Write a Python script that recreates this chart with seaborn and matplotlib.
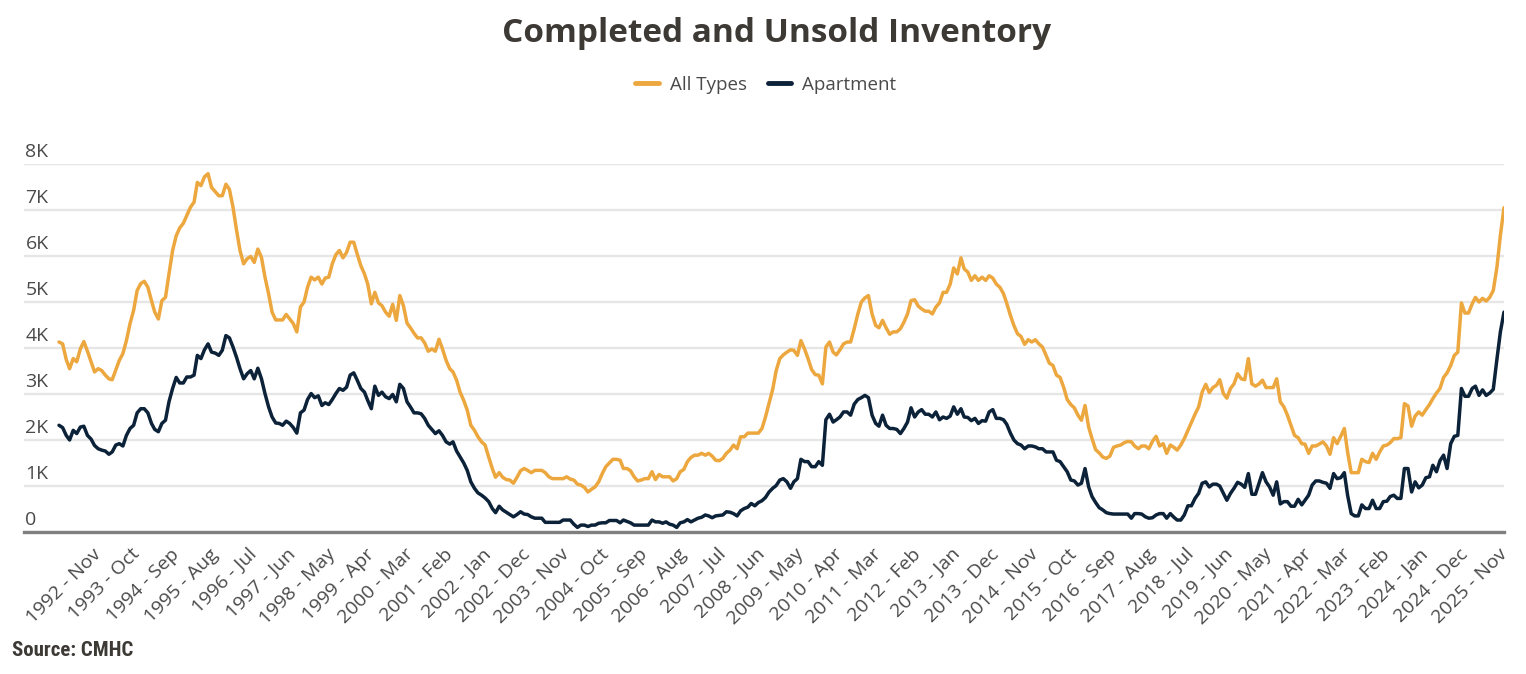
import matplotlib
matplotlib.use("Agg")
import matplotlib.pyplot as plt
import matplotlib.dates as mdates
from matplotlib import font_manager
from matplotlib.lines import Line2D
import seaborn as sns
import pandas as pd
import numpy as np

# monthly completed-and-unsold units, in thousands, starting Dec 1991
start_month = "1991-12-01"

all_types_k = [
    4.13, 4.09, 3.75, 3.55, 3.77, 3.70, 3.98, 4.14, 3.93, 3.70,
    3.48, 3.55, 3.51, 3.41, 3.33, 3.31, 3.52, 3.73, 3.88, 4.16,
    4.53, 4.82, 5.25, 5.40, 5.45, 5.32, 5.03, 4.78, 4.63, 5.03,
    5.10, 5.61, 6.12, 6.44, 6.61, 6.71, 6.88, 7.06, 7.17, 7.60,
    7.53, 7.72, 7.79, 7.49, 7.40, 7.31, 7.31, 7.56, 7.45, 7.06,
    6.55, 6.12, 5.83, 5.94, 5.99, 5.86, 6.15, 5.97, 5.54, 5.18,
    4.78, 4.61, 4.61, 4.61, 4.73, 4.63, 4.53, 4.35, 4.89, 5.00,
    5.32, 5.54, 5.48, 5.54, 5.39, 5.52, 5.54, 5.83, 6.03, 6.12,
    5.96, 6.08, 6.30, 6.30, 6.04, 5.79, 5.61, 5.39, 4.96, 5.21,
    4.98, 4.92, 4.78, 4.69, 4.95, 4.60, 5.14, 4.92, 4.54, 4.44,
    4.32, 4.22, 4.22, 4.11, 3.93, 3.98, 3.93, 4.19, 3.98, 3.73,
    3.55, 3.48, 3.30, 3.04, 2.86, 2.65, 2.32, 2.21, 2.07, 1.96,
    1.89, 1.63, 1.38, 1.19, 1.29, 1.19, 1.14, 1.13, 1.06, 1.19,
    1.33, 1.38, 1.34, 1.29, 1.34, 1.34, 1.34, 1.29, 1.20, 1.16,
    1.16, 1.16, 1.16, 1.20, 1.15, 1.13, 1.04, 1.02, 0.97, 0.87,
    0.93, 0.98, 1.09, 1.27, 1.42, 1.50, 1.58, 1.58, 1.56, 1.38,
    1.38, 1.33, 1.20, 1.11, 1.13, 1.16, 1.16, 1.31, 1.14, 1.25,
    1.20, 1.20, 1.20, 1.11, 1.16, 1.31, 1.36, 1.53, 1.62, 1.67,
    1.67, 1.71, 1.67, 1.71, 1.65, 1.56, 1.55, 1.60, 1.71, 1.78,
    1.89, 1.81, 2.07, 2.07, 2.15, 2.15, 2.15, 2.15, 2.25, 2.50,
    2.80, 3.10, 3.51, 3.77, 3.85, 3.91, 3.96, 3.95, 3.84, 4.16,
    3.98, 3.77, 3.53, 3.42, 3.41, 3.22, 4.02, 4.13, 3.91, 3.85,
    3.96, 4.09, 4.13, 4.13, 4.42, 4.74, 5.00, 5.09, 5.14, 4.74,
    4.49, 4.44, 4.60, 4.44, 4.30, 4.35, 4.35, 4.42, 4.56, 4.74,
    5.03, 5.05, 4.91, 4.85, 4.80, 4.80, 4.74, 4.89, 4.98, 5.21,
    5.21, 5.39, 5.74, 5.61, 5.96, 5.72, 5.65, 5.47, 5.57, 5.47,
    5.54, 5.47, 5.57, 5.52, 5.39, 5.32, 5.18, 4.97, 4.71, 4.49,
    4.31, 4.25, 4.08, 4.18, 4.13, 4.18, 4.09, 4.02, 3.84, 3.67,
    3.62, 3.41, 3.36, 3.15, 2.88, 2.77, 2.70, 2.54, 2.43, 2.75,
    2.28, 2.03, 1.79, 1.72, 1.63, 1.60, 1.65, 1.84, 1.87, 1.89,
    1.94, 1.97, 1.96, 1.87, 1.81, 1.87, 1.87, 1.81, 1.97, 2.08,
    1.87, 1.92, 1.71, 1.89, 1.84, 1.78, 1.89, 2.03, 2.21, 2.39,
    2.56, 2.72, 3.04, 3.21, 3.03, 3.14, 3.19, 3.31, 3.01, 2.91,
    3.12, 3.22, 3.44, 3.33, 3.31, 3.77, 3.22, 3.17, 3.22, 3.30,
    3.14, 3.14, 3.14, 3.33, 2.83, 2.72, 2.54, 2.32, 2.10, 2.05,
    1.92, 1.91, 1.71, 1.87, 1.87, 1.91, 1.96, 1.87, 1.69, 2.05,
    1.92, 2.08, 2.25, 1.74, 1.29, 1.29, 1.29, 1.58, 1.53, 1.51,
    1.71, 1.58, 1.74, 1.87, 1.89, 1.94, 2.03, 2.03, 2.05, 2.79,
    2.74, 2.30, 2.52, 2.61, 2.54, 2.66, 2.77, 2.90, 3.02, 3.12,
    3.36, 3.46, 3.62, 3.84, 3.91, 4.98, 4.76, 4.76, 4.96, 5.10,
    5.00, 5.08, 5.02, 5.10, 5.25, 5.75, 6.45, 7.05,
]

apartment_k = [
    2.32, 2.27, 2.10, 2.00, 2.21, 2.14, 2.28, 2.30, 2.10, 2.02,
    1.88, 1.81, 1.78, 1.76, 1.69, 1.74, 1.89, 1.92, 1.87, 2.10,
    2.25, 2.32, 2.59, 2.68, 2.68, 2.59, 2.36, 2.23, 2.18, 2.36,
    2.43, 2.83, 3.12, 3.36, 3.24, 3.24, 3.37, 3.37, 3.41, 3.84,
    3.77, 3.96, 4.09, 3.91, 3.89, 3.84, 3.95, 4.27, 4.22, 4.02,
    3.79, 3.55, 3.33, 3.44, 3.51, 3.33, 3.56, 3.33, 3.01, 2.72,
    2.50, 2.37, 2.36, 2.32, 2.41, 2.36, 2.27, 2.15, 2.59, 2.65,
    2.88, 3.01, 2.92, 2.96, 2.75, 2.81, 2.77, 2.88, 3.01, 3.12,
    3.08, 3.15, 3.41, 3.46, 3.30, 3.12, 3.04, 2.86, 2.68, 3.17,
    2.97, 3.04, 2.94, 2.90, 2.99, 2.83, 3.21, 3.12, 2.83, 2.72,
    2.59, 2.59, 2.57, 2.47, 2.32, 2.23, 2.14, 2.20, 2.10, 1.96,
    1.91, 1.96, 1.76, 1.63, 1.50, 1.34, 1.09, 0.95, 0.85, 0.80,
    0.74, 0.66, 0.51, 0.42, 0.56, 0.48, 0.43, 0.38, 0.33, 0.38,
    0.44, 0.39, 0.38, 0.33, 0.30, 0.30, 0.30, 0.21, 0.21, 0.21,
    0.21, 0.21, 0.26, 0.26, 0.26, 0.17, 0.10, 0.15, 0.15, 0.12,
    0.15, 0.15, 0.19, 0.20, 0.20, 0.25, 0.25, 0.25, 0.20, 0.26,
    0.23, 0.20, 0.15, 0.15, 0.15, 0.15, 0.15, 0.26, 0.22, 0.22,
    0.19, 0.22, 0.17, 0.15, 0.10, 0.20, 0.22, 0.27, 0.22, 0.26,
    0.30, 0.32, 0.37, 0.35, 0.31, 0.35, 0.36, 0.37, 0.44, 0.43,
    0.40, 0.35, 0.46, 0.51, 0.54, 0.62, 0.57, 0.64, 0.68, 0.75,
    0.87, 0.95, 1.01, 1.13, 1.16, 1.09, 0.95, 1.09, 1.16, 1.58,
    1.53, 1.53, 1.42, 1.42, 1.53, 1.45, 2.44, 2.56, 2.39, 2.44,
    2.50, 2.61, 2.61, 2.54, 2.78, 2.88, 2.92, 2.97, 2.92, 2.54,
    2.36, 2.30, 2.54, 2.32, 2.25, 2.25, 2.23, 2.14, 2.25, 2.39,
    2.70, 2.50, 2.61, 2.66, 2.56, 2.56, 2.50, 2.61, 2.44, 2.50,
    2.47, 2.52, 2.72, 2.56, 2.68, 2.50, 2.49, 2.42, 2.47, 2.36,
    2.42, 2.41, 2.61, 2.66, 2.47, 2.47, 2.44, 2.34, 2.15, 2.00,
    1.92, 1.89, 1.81, 1.87, 1.87, 1.85, 1.81, 1.81, 1.74, 1.74,
    1.74, 1.56, 1.53, 1.42, 1.31, 1.13, 1.11, 1.02, 1.06, 1.38,
    0.98, 0.77, 0.64, 0.53, 0.48, 0.42, 0.40, 0.39, 0.39, 0.39,
    0.39, 0.39, 0.30, 0.40, 0.40, 0.39, 0.33, 0.30, 0.31, 0.37,
    0.40, 0.40, 0.30, 0.40, 0.32, 0.26, 0.26, 0.37, 0.57, 0.57,
    0.73, 0.84, 1.06, 1.09, 0.98, 1.04, 1.04, 1.00, 0.84, 0.69,
    0.84, 0.95, 1.08, 1.04, 0.97, 1.27, 0.82, 0.82, 1.06, 1.29,
    1.09, 0.98, 0.80, 1.09, 0.61, 0.66, 0.66, 0.56, 0.56, 0.71,
    0.59, 0.69, 0.80, 1.02, 1.11, 1.11, 1.08, 1.06, 0.95, 1.27,
    1.16, 1.18, 1.29, 0.80, 0.40, 0.35, 0.35, 0.59, 0.51, 0.51,
    0.69, 0.51, 0.51, 0.66, 0.67, 0.77, 0.80, 0.73, 0.73, 1.38,
    1.38, 0.87, 1.09, 0.96, 1.02, 1.18, 1.20, 1.45, 1.31, 1.55,
    1.67, 1.38, 1.92, 2.08, 2.10, 3.12, 2.95, 2.95, 3.12, 3.17,
    2.97, 3.09, 2.97, 3.02, 3.10, 3.75, 4.35, 4.78,
]

series_names = ["All Types", "Apartment"]
colors = {"All Types": "#EDA73F", "Apartment": "#0C2239"}
y_ticks = [0, 1000, 2000, 3000, 4000, 5000, 6000, 7000, 8000]
y_labels = ["0", "1K", "2K", "3K", "4K", "5K", "6K", "7K", "8K"]
tick_every = 11

months = pd.date_range(start_month, periods=len(all_types_k), freq="MS")
n = len(months)
df = pd.DataFrame({
    "month": list(months) * 2,
    "value": np.array(all_types_k + apartment_k) * 1000,
    "series": [series_names[0]] * n + [series_names[1]] * n,
})

sns.set_theme(style="white")
plt.rcParams["font.family"] = ["Open Sans", "DejaVu Sans"]

text_dark = "#3d3a36"
text_mid = "#4a4a4a"

W, H = 1526, 674
fig = plt.figure(figsize=(W / 100, H / 100), dpi=100)
ax = fig.add_axes([24 / W, 1 - 532 / H, (1504 - 24) / W, (532 - 164) / H])

sns.lineplot(data=df, x="month", y="value", hue="series", palette=colors,
             linewidth=2.5, ax=ax, legend=False)

ax.set_xlim(months[0] - pd.Timedelta(days=300), months[-1])
ax.set_ylim(0, 8000)
ax.set_xlabel("")
ax.set_ylabel("")

# gridlines and y labels sitting on top of the lines, left aligned
ax.set_yticks(y_ticks)
ax.set_yticklabels([])
ax.tick_params(axis="y", length=0)
ax.yaxis.grid(True, color="#e6e6e6", linewidth=1.7)
ax.set_axisbelow(True)
for v, lab in zip(y_ticks, y_labels):
    ax.annotate(lab, xy=(0, v), xycoords=ax.get_yaxis_transform(),
                xytext=(1, 2), textcoords="offset points",
                ha="left", va="bottom", fontsize=14, color=text_mid)

tick_months = months[tick_every::tick_every]
ax.set_xticks(mdates.date2num(tick_months.to_pydatetime()))
ax.set_xticklabels([f"{d.year} - {d.strftime('%b')}" for d in tick_months],
                   rotation=45, ha="right", va="center", rotation_mode="anchor")
ax.tick_params(axis="x", length=0, pad=14, labelsize=14, labelcolor=text_mid)

for side in ["top", "left", "right"]:
    ax.spines[side].set_visible(False)
ax.spines["bottom"].set_color("#7f7f7f")
ax.spines["bottom"].set_linewidth(2.4)

fig.text(777 / W, 1 - 33 / H, "Completed and Unsold Inventory", ha="center",
         va="center", fontsize=24, fontweight="bold", color=text_dark)

handles = [Line2D([0], [0], color=colors[s], linewidth=3.5) for s in series_names]
fig.legend(handles, series_names, loc="center", bbox_to_anchor=(766 / W, 1 - 85 / H),
           ncol=2, frameon=False, fontsize=13.5, handlelength=1.25, handletextpad=0.6,
           columnspacing=1.1, labelcolor=text_mid)

names = {f.name for f in font_manager.fontManager.ttflist}
source_font = next((f for f in ["Liberation Sans Narrow", "DejaVu Sans Condensed",
                                "Roboto Condensed"] if f in names), "Roboto")
fig.text(12 / W, 1 - 650 / H, "Source: CMHC", ha="left", va="center",
         fontsize=15, fontweight="bold", color=text_dark, family=source_font)

fig.savefig("out.png", dpi=100)
